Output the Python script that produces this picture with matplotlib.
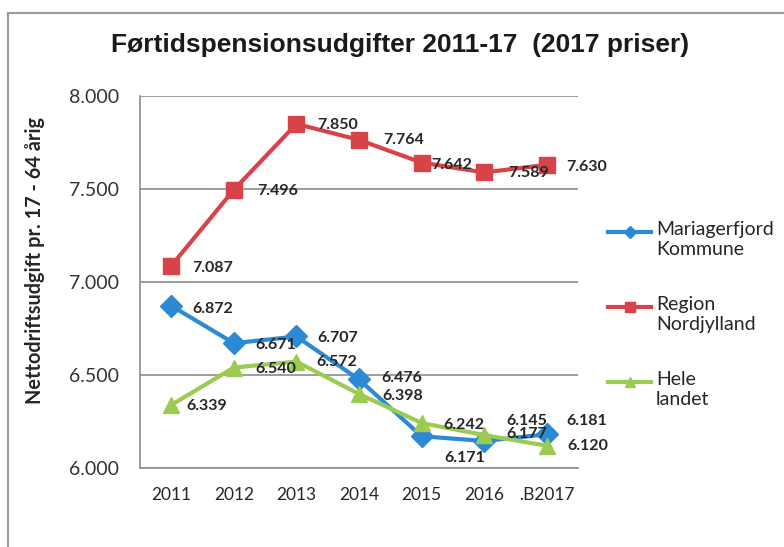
import matplotlib.pyplot as plt
from matplotlib.lines import Line2D

years = ["2011", "2012", "2013", "2014", "2015", "2016", ".B2017"]
mariagerfjord = [6.872, 6.671, 6.707, 6.476, 6.171, 6.145, 6.181]
region = [7.087, 7.496, 7.850, 7.764, 7.642, 7.589, 7.630]
hele_landet = [6.339, 6.540, 6.572, 6.398, 6.242, 6.177, 6.120]

series_names = ["Mariagerfjord\nKommune", "Region\nNordjylland", "Hele\nlandet"]
colors = ["#2B8AD3", "#D8434A", "#9BCB50"]
markers = ["D", "s", "^"]

# label offsets in pixels (Excel labels were moved by hand in a few places)
offsets_blue = [(21, -3), (22, -2), (21, -2), (22, 1), (23, -22), (22, 20), (20, 13)]
offsets_red = [(21, -2), (23, -1), (21, -1), (24, 0), (10, -2), (24, -1), (20, -2)]
offsets_green = [(15, -1), (22, -1), (20, 0), (23, -2), (22, -2), (22, 1), (21, 0)]

plt.rcParams['font.family'] = ['Lato', 'DejaVu Sans']

W, H = 784, 547
fig = plt.figure(figsize=(W / 100, H / 100), dpi=100)
ax = fig.add_axes([140 / W, 1 - 468 / H, (578 - 140) / W, (468 - 96) / H])

x = list(range(len(years)))
all_series = [mariagerfjord, region, hele_landet]
all_offsets = [offsets_blue, offsets_red, offsets_green]
msizes = [11, 11, 12]

for vals, col, mk, ms in zip(all_series, colors, markers, msizes):
    ax.plot(x, vals, color=col, lw=3, marker=mk, markersize=ms, zorder=3)

for vals, offs in zip(all_series, all_offsets):
    for xi, v, (dx, dy) in zip(x, vals, offs):
        ax.annotate(f"{v:.3f}", (xi, v), xytext=(dx, dy), textcoords='offset pixels',
                    ha='left', va='center', fontsize=11.5, fontweight='bold',
                    color='#262626', zorder=4)

ax.set_xlim(-0.5, 6.5)
ax.set_ylim(6.0, 8.0)
ax.set_yticks([6.0, 6.5, 7.0, 7.5, 8.0])
ax.set_yticklabels(["6.000", "6.500", "7.000", "7.500", "8.000"], fontsize=14, color='#333333')
ax.set_xticks(x)
ax.set_xticklabels(years, fontsize=12.5, color='#262626')
ax.tick_params(length=0)
ax.tick_params(axis='y', pad=15)
ax.tick_params(axis='x', pad=14)
ax.grid(axis='y', color='#8c8c8c', lw=1.2)
ax.set_axisbelow(True)
for s in ['top', 'right']:
    ax.spines[s].set_visible(False)
for s in ['left', 'bottom']:
    ax.spines[s].set_color('#8c8c8c')
    ax.spines[s].set_linewidth(1.2)

fig.text(35 / W, 1 - 261 / H, "Nettodriftsudgift pr. 17 - 64 årig", rotation=90,
         ha='center', va='center', fontsize=14.3, fontweight='bold', color='#262626')

fig.text(400 / W, 1 - 45 / H, "Førtidspensionsudgifter 2011-17  (2017 priser)",
         ha='center', va='center', fontsize=19, fontweight='bold',
         family='Liberation Sans', color='#1a1a1a')

# legend drawn by hand so the sample sits on the first text line, as in Excel
legend_rows = [232, 307, 382]
for name, col, mk, ms, row in zip(series_names, colors, markers, msizes, legend_rows):
    yf = 1 - row / H
    fig.add_artist(Line2D([608 / W, 651 / W], [yf, yf], color=col, lw=3))
    fig.add_artist(Line2D([629.5 / W], [yf], color=col, marker=mk, markersize=ms * 0.6, lw=0))
    fig.text(656 / W, 1 - (row - 11) / H, name, ha='left', va='top', fontsize=14,
             linespacing=1.2, color='#262626')

# frame of the original picture
fig.add_artist(Line2D([8 / W, 1.0], [1 - 13 / H, 1 - 13 / H], color='#9a9a9a', lw=1.5))
fig.add_artist(Line2D([8 / W, 8 / W], [0.0, 1 - 13 / H], color='#9a9a9a', lw=1.5))

fig.savefig("out.png", dpi=100)
